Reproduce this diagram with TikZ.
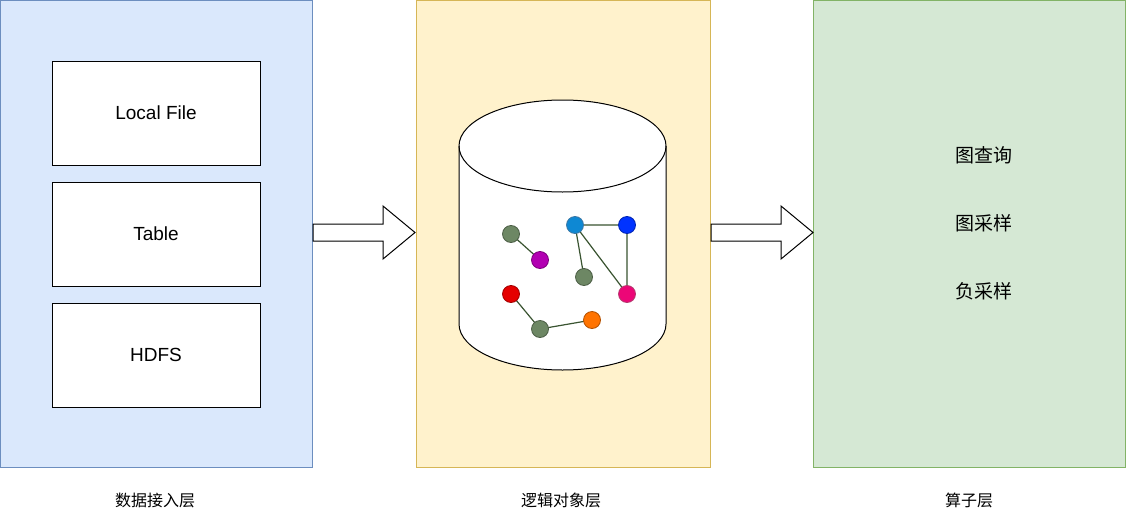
\documentclass[tikz,border=0pt]{standalone}
\usepackage{fontspec}
\setmainfont{Liberation Sans}
\newfontfamily\cjk{Noto Sans CJK SC}
\definecolor{bfill}{HTML}{DAE8FC}\definecolor{bdraw}{HTML}{6C8EBF}
\definecolor{yfill}{HTML}{FFF2CC}\definecolor{ydraw}{HTML}{D6B656}
\definecolor{gfill}{HTML}{D5E8D4}\definecolor{gdraw}{HTML}{82B366}
\definecolor{gnode}{HTML}{6D8764}\definecolor{gline}{HTML}{3A5431}
\begin{document}
\begin{tikzpicture}[x=1pt,y=-1pt,
  panel/.style={draw=#1,line width=1pt},
  srcbox/.style={draw,line width=1pt,fill=white,minimum width=208pt,minimum height=104pt,font=\fontsize{19}{22}\selectfont},
  lbl/.style={font=\cjk\fontsize{16}{19}\selectfont},
  op/.style={font=\cjk\fontsize{19}{22}\selectfont},
  gn/.style={circle,draw=#1!70!black,fill=#1,minimum size=17pt,inner sep=0pt,line width=0.8pt},
  ge/.style={draw=gline,line width=1.2pt},
  blk/.style={draw,line width=1pt,fill=white}]
\useasboundingbox (0,0) rectangle (1126,522);
\draw[panel=bdraw,fill=bfill] (0.5,0.5) rectangle (312,467);
\draw[panel=ydraw,fill=yfill] (416,0.5) rectangle (710,467);
\draw[panel=gdraw,fill=gfill] (813,0.5) rectangle (1125.5,467);
\node[srcbox] (lf) at (156,113) {Local File};
\node[srcbox] (tb) at (156,234) {Table};
\node[srcbox] (hd) at (156,355) {HDFS};
\draw[blk] (313,224)--(383,224)--(383,206)--(415,232.5)--(383,259)--(383,241)--(313,241)--cycle;
\draw[blk] (711,224)--(781,224)--(781,206)--(813,232.5)--(781,259)--(781,241)--(711,241)--cycle;
% cylinder
\draw[line width=1pt,fill=white] (459,146) -- (459,324) arc[start angle=180,end angle=0,x radius=103.5,y radius=46] -- (666,146) arc[start angle=0,end angle=-180,x radius=103.5,y radius=46];
\draw[line width=1pt] (459,146) arc[start angle=180,end angle=0,x radius=103.5,y radius=46];
\draw[ge] (511,234)--(540,260);
\draw[ge] (575,225)--(627,225)--(627,294)--(575,225)--(584,277);
\draw[ge] (511,294)--(540,329)--(592,320);
\node[gn=gnode] (a) at (511,234) {};
\node[gn=violet!60!magenta] (b) at (540,260) {};
\node[gn=cyan!70!blue] (c) at (575,225) {};
\node[gn=blue!80!cyan] (d) at (627,225) {};
\node[gn=gnode] (e) at (584,277) {};
\node[gn=magenta!80!red] (f) at (627,294) {};
\node[gn=red!90!black] (g) at (511,294) {};
\node[gn=gnode] (h) at (540,329) {};
\node[gn=orange!90!red] (i) at (592,320) {};
\node[op] (o1) at (984,155) {图查询};
\node[op] (o2) at (984,223) {图采样};
\node[op] (o3) at (984,291) {负采样};
\node[lbl] (l1) at (155,500) {数据接入层};
\node[lbl] (l2) at (561,500) {逻辑对象层};
\node[lbl] (l3) at (969,500) {算子层};
\end{tikzpicture}
\end{document}
